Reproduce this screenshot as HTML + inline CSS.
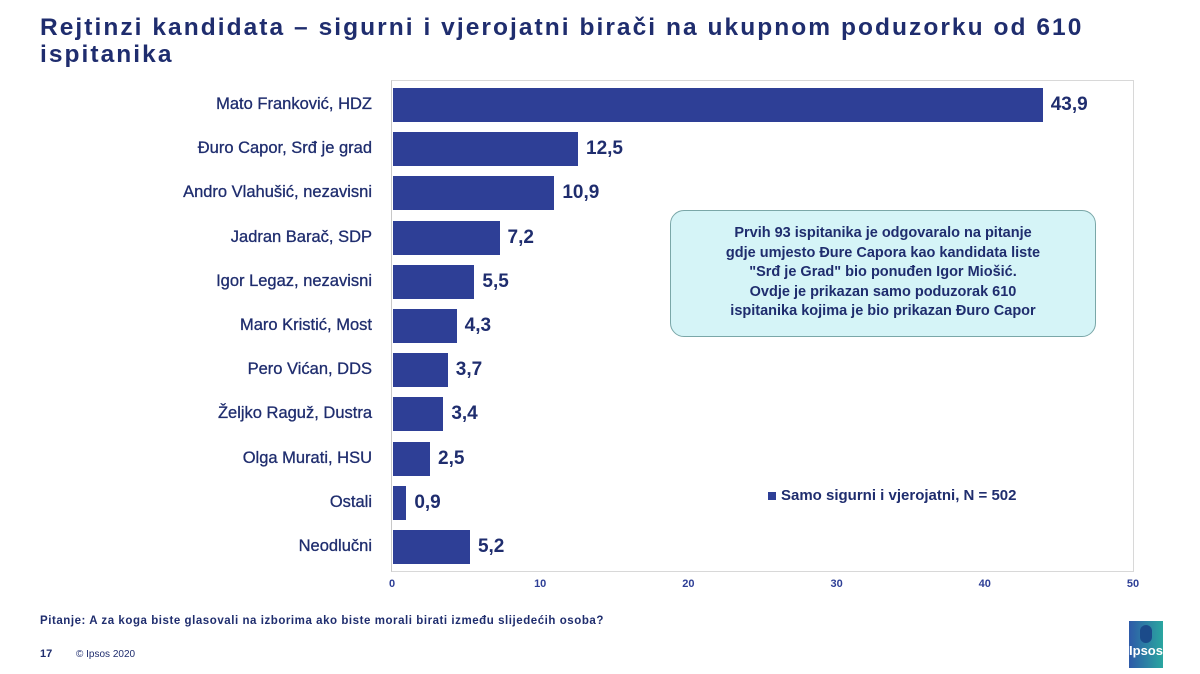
<!DOCTYPE html>
<html><head><meta charset="utf-8"><style>
body{margin:0;width:1200px;height:674px;background:#fff;position:relative;overflow:hidden;font-family:"Liberation Sans",sans-serif}
.t{position:absolute;left:40px;top:14px;font-size:24.5px;font-weight:bold;color:#1f2d6e;line-height:27px;letter-spacing:2.05px}
.lab{position:absolute;right:828px;font-size:16.5px;color:#1f2d6e;white-space:nowrap;-webkit-text-stroke:0.3px #1f2d6e}
.bar{position:absolute;left:393px;height:34px;background:#2e3f96}
.val{position:absolute;font-size:19px;font-weight:bold;color:#1f2d6e}
.ax{position:absolute;top:578px;font-size:11px;font-weight:bold;color:#2e3f96;width:30px;margin-left:-15px;text-align:center}
</style></head><body>
<div class="t">Rejtinzi kandidata – sigurni i vjerojatni birači na ukupnom poduzorku od 610<br>ispitanika</div>
<div style="position:absolute;left:391px;top:80px;width:741px;height:490px;border:1px solid #d8d8d8;border-left:1px solid #c8c8c8"></div>
<div id="c"></div>
<div style="position:absolute;left:670px;top:210px;width:426px;height:127px;border:1.5px solid #7aa7a8;border-radius:14px;background:#d5f4f7;color:#1f2d6e;font-size:14.5px;font-weight:bold;text-align:center;line-height:19.5px;padding-top:13px;box-sizing:border-box">Prvih 93 ispitanika je odgovaralo na pitanje<br>gdje umjesto Đure Capora kao kandidata liste<br>"Srđ je Grad" bio ponuđen Igor Miošić.<br>Ovdje je prikazan samo poduzorak 610<br>ispitanika kojima je bio prikazan Đuro Capor</div>
<div style="position:absolute;left:768px;top:492px;width:8px;height:8px;background:#2e3f96"></div>
<div style="position:absolute;left:781px;top:487px;font-size:15px;font-weight:bold;color:#1f2d6e">Samo sigurni i vjerojatni, N = 502</div>
<div style="position:absolute;left:40px;top:615px;font-size:11.5px;font-weight:bold;color:#1f2d6e;letter-spacing:0.55px">Pitanje: A za koga biste glasovali na izborima ako biste morali birati između slijedećih osoba?</div>
<div style="position:absolute;left:40px;top:648px;font-size:11px;font-weight:bold;color:#1f2d6e">17</div>
<div style="position:absolute;left:76px;top:649px;font-size:10px;color:#1f2d6e">© Ipsos 2020</div>
<div style="position:absolute;left:1129px;top:621px;width:34px;height:47px;background:linear-gradient(90deg,#2e5aa8,#2aa6a0);color:#fff;font-size:13px;font-weight:bold;text-align:center">
<div style="width:12px;height:18px;border-radius:6px;background:#1b4b8a;margin:4px auto 0"></div><div style="line-height:16px">Ipsos</div></div>
<script>
var d=[["Mato Franković, HDZ",43.9],["Đuro Capor, Srđ je grad",12.5],["Andro Vlahušić, nezavisni",10.9],["Jadran Barač, SDP",7.2],["Igor Legaz, nezavisni",5.5],["Maro Kristić, Most",4.3],["Pero Vićan, DDS",3.7],["Željko Raguž, Dustra",3.4],["Olga Murati, HSU",2.5],["Ostali",0.9],["Neodlučni",5.2]];
var h="",s=14.8;
d.forEach(function(r,i){var y=88+i*44.2,w=r[1]*s;
h+='<div class="lab" style="top:'+(y+7)+'px">'+r[0]+'</div><div class="bar" style="top:'+y+'px;width:'+w+'px"></div><div class="val" style="top:'+(y+6)+'px;left:'+(393+w+8)+'px">'+r[1].toFixed(1).replace(".",",")+'</div>';});
for(var k=0;k<=5;k++)h+='<div class="ax" style="left:'+(392+k*148.2)+'px">'+k*10+'</div>';
document.getElementById("c").innerHTML=h;
</script>
</body></html>
